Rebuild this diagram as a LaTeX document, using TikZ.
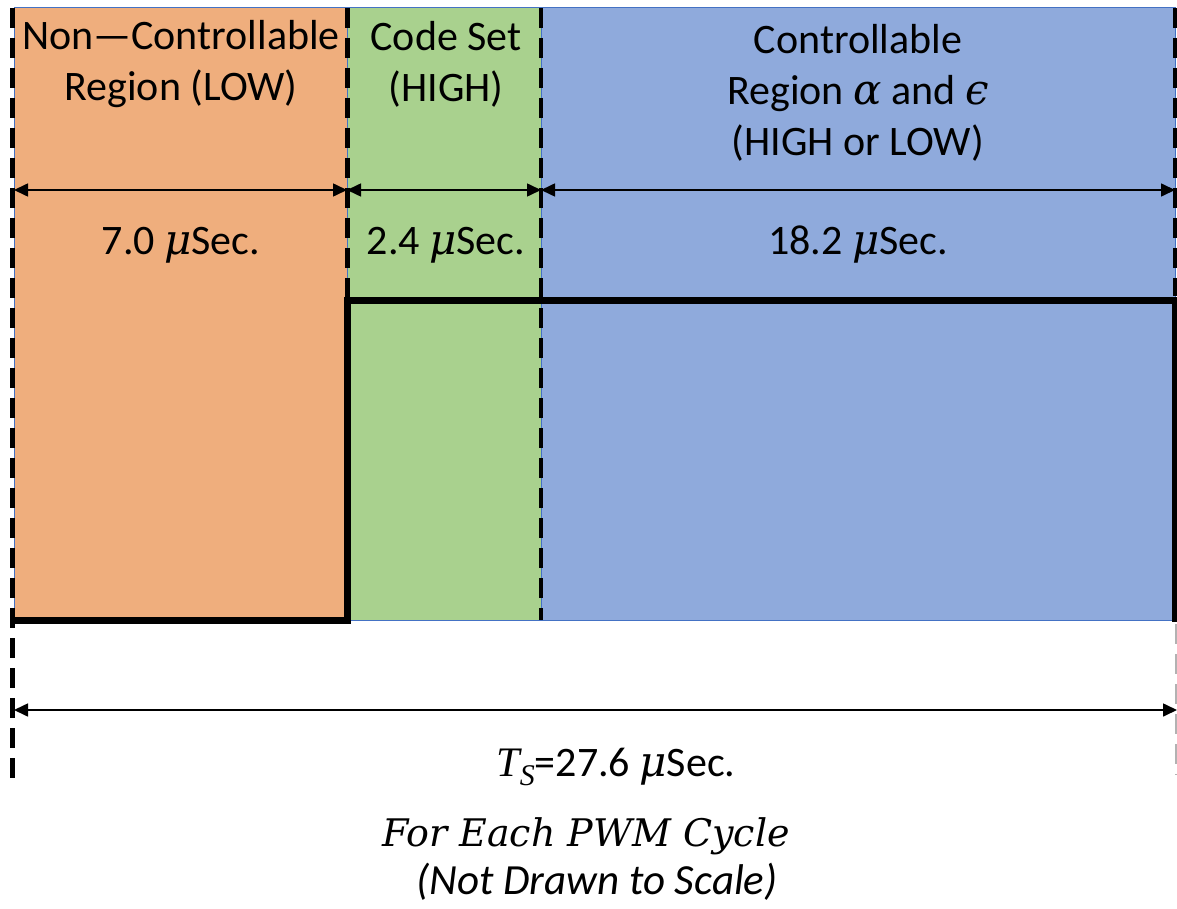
\documentclass[tikz,border=0pt]{standalone}
\usepackage{fontspec}
\setmainfont{Carlito}
\newfontfamily\mfont{Liberation Serif}
\newfontfamily\efont{DejaVu Serif}
\newfontfamily\cfont{DejaVu Serif}
\usetikzlibrary{arrows.meta}
\definecolor{cOrange}{HTML}{EFAE7D}
\definecolor{cGreen}{HTML}{A9D18E}
\definecolor{cBlue}{HTML}{8FAADC}
\definecolor{cEdge}{HTML}{4472C4}
\newcommand{\mi}[1]{{\mfont\itshape #1}}
\newcommand{\ei}[1]{{\efont\itshape #1}}
\tikzset{
  region/.style={draw=cEdge, line width=1pt},
  lbl/.style={font=\fontsize{42}{51}\selectfont, align=center, inner sep=0pt},
  dimarrow/.style={line width=1.6pt, {Triangle[length=14pt,width=13pt]}-{Triangle[length=14pt,width=13pt]}},
  divider/.style={line width=5pt, dash pattern=on 20pt off 10pt},
  thindivider/.style={line width=4pt, dash pattern=on 20pt off 10pt},
  greydivider/.style={line width=2pt, gray!60, dash pattern=on 20pt off 10pt},
  wave/.style={line width=7pt, line join=miter, line cap=rect},
}
\begin{document}
\begin{tikzpicture}[x=1pt,y=-1pt]
\useasboundingbox (0,0) rectangle (1177,909);
% regions
\fill[cOrange] (14,8) rectangle (347,620);
\fill[cGreen] (347,8) rectangle (541,620);
\fill[cBlue] (541,8) rectangle (1175,620);
\draw[region] (14,8) rectangle (347,620);
\draw[region] (347,8) rectangle (541,620);
\draw[region] (541,8) rectangle (1175,620);
% dividers
\draw[divider] (12,8) -- (12,780);
\draw[divider] (347,8) -- (347,300);
\draw[thindivider] (541,8) -- (541,620);
\draw[thindivider] (1175,8) -- (1175,296);
\draw[greydivider] (1176,624) -- (1176,775);
% waveform
\draw[wave] (18,620) -- (347,620) -- (347,300) -- (1175,300) -- (1175,618);
% dimension coordinates
\coordinate (d0) at (14,190);
\coordinate (d1) at (347,190);
\coordinate (d2) at (541,190);
\coordinate (d3) at (1175,190);
\coordinate (t0) at (14,710);
\coordinate (t1) at (1177,710);
\draw[dimarrow] (d0) -- (d1);
\draw[dimarrow] (d1) -- (d2);
\draw[dimarrow] (d2) -- (d3);
\draw[dimarrow] (t0) -- (t1);
% labels
\node[lbl] (n1) at (181,64) {Non—Controllable\\Region (LOW)};
\node[lbl] (n2) at (446,64) {Code Set\\(HIGH)};
\node[lbl] (n3) at (858,93) {Controllable\\Region \ei{α} and \ei{ϵ}\\(HIGH or LOW)};
\node[lbl] (v1) at (181,245) {7.0 \ei{μ}Sec.};
\node[lbl] (v2) at (446,245) {2.4 \ei{μ}Sec.};
\node[lbl] (v3) at (858,245) {18.2 \ei{μ}Sec.};
\node[lbl] (ts) at (616,767) {\mi{T}\raisebox{-0.22em}{\fontsize{30}{30}\selectfont\mi{S}}=27.6 \ei{μ}Sec.};
\node[lbl, font=\fontsize{38}{38}\selectfont\cfont\itshape] (f1) at (586,836) {For Each PWM Cycle};
\node[lbl, font=\fontsize{43}{43}\selectfont\itshape] (f2) at (597,882) {(Not Drawn to Scale)};
\end{tikzpicture}
\end{document}
